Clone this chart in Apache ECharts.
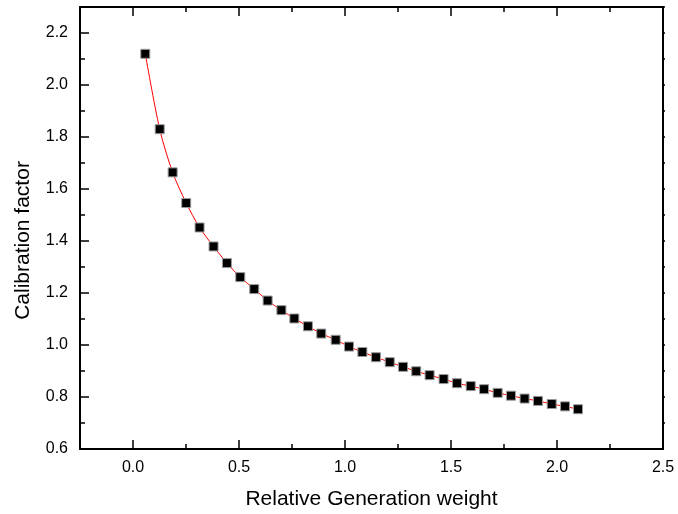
<!DOCTYPE html>
<html>
<head>
<meta charset="utf-8">
<script src="https://cdn.jsdelivr.net/npm/echarts@6/dist/echarts.min.js"></script>
<style>html,body{margin:0;padding:0;background:#fff}#c{width:678px;height:514px}</style>
</head>
<body>
<div id="c"></div>
<script>
var xValues = [0.058, 0.126, 0.187, 0.251, 0.314, 0.380, 0.443, 0.506, 0.572, 0.635, 0.700,
  0.761, 0.825, 0.888, 0.956, 1.019, 1.082, 1.146, 1.211, 1.274, 1.336, 1.399, 1.465,
  1.528, 1.593, 1.656, 1.720, 1.783, 1.847, 1.910, 1.975, 2.038, 2.099];
var yValues = [2.120, 1.830, 1.664, 1.546, 1.452, 1.379, 1.315, 1.261, 1.215, 1.171, 1.134,
  1.102, 1.072, 1.044, 1.020, 0.994, 0.973, 0.953, 0.934, 0.916, 0.899, 0.884, 0.869,
  0.853, 0.842, 0.830, 0.816, 0.805, 0.794, 0.785, 0.773, 0.764, 0.753];
var xMajorTicks = [0, 0.5, 1.0, 1.5, 2.0, 2.5];
var xMinorTicks = [0.25, 0.75, 1.25, 1.75, 2.25];
var yMajorTicks = [0.6, 0.8, 1.0, 1.2, 1.4, 1.6, 1.8, 2.0, 2.2];
var yMinorTicks = [0.7, 0.9, 1.1, 1.3, 1.5, 1.7, 1.9, 2.1, 2.3];
var yRightTicks = [0.7, 0.8, 0.9, 1.0, 1.1, 1.2, 1.3, 1.4, 1.5, 1.6, 1.7, 1.8, 1.9, 2.0, 2.1, 2.2, 2.3];
var xTitle = 'Relative Generation weight';
var yTitle = 'Calibration factor';

var points = xValues.map(function (x, i) { return [x, yValues[i]]; });
var FONT = "'Liberation Sans', Arial, sans-serif";
var XMIN = -0.25, XMAX = 2.5, YMIN = 0.6, YMAX = 2.3;
var lineStyle = { color: '#000', width: 2 };

function xAx(pos, ticks, len, showLine, labels) {
  var a = {
    type: 'value', position: pos, min: XMIN, max: XMAX, offset: 0,
    splitLine: { show: false },
    axisLine: { show: showLine, onZero: false, lineStyle: lineStyle },
    axisTick: { show: true, inside: true, length: len, customValues: ticks, lineStyle: { color: '#000', width: 1.5 } },
    axisLabel: { show: false }
  };
  if (labels) {
    a.axisLabel = { show: true, customValues: ticks, margin: 11, color: '#000', fontFamily: FONT, fontSize: 16,
      formatter: function (v) { return v.toFixed(1); } };
    a.name = xTitle; a.nameLocation = 'middle'; a.nameGap = 40;
    a.nameTextStyle = { color: '#000', fontFamily: FONT, fontSize: 21 };
  }
  return a;
}
function yAx(pos, ticks, len, inside, showLine, labels) {
  var a = {
    type: 'value', position: pos, min: YMIN, max: YMAX, offset: 0,
    splitLine: { show: false },
    axisLine: { show: showLine, onZero: false, lineStyle: lineStyle },
    axisTick: { show: true, inside: inside, length: len, customValues: ticks, lineStyle: { color: '#000', width: 1.5 } },
    axisLabel: { show: false }
  };
  if (labels) {
    a.axisLabel = { show: true, customValues: ticks, margin: 12, color: '#000', fontFamily: FONT, fontSize: 16,
      formatter: function (v) { return v.toFixed(1); } };
    a.name = yTitle; a.nameLocation = 'middle'; a.nameGap = 46;
    a.nameTextStyle = { color: '#000', fontFamily: FONT, fontSize: 21, padding: [0, 25, 0, 0] };
  }
  return a;
}

var chart = echarts.init(document.getElementById('c'));
chart.setOption({
  animation: false,
  backgroundColor: '#fff',
  grid: { left: 80, right: 15, top: 7, bottom: 65, containLabel: false, outerBoundsMode: 'none' },
  xAxis: [
    xAx('bottom', xMajorTicks, 9, true, true),
    xAx('bottom', xMinorTicks, 5, false, false),
    xAx('top', xMajorTicks, 9, true, false),
    xAx('top', xMinorTicks, 5, false, false)
  ],
  yAxis: [
    yAx('left', yMajorTicks, 9, true, true, true),
    yAx('left', yMinorTicks, 5, true, false, false),
    yAx('right', yRightTicks, 2, false, true, false)
  ],
  series: [
    {
      type: 'line', xAxisIndex: 0, yAxisIndex: 0, data: points,
      smooth: 0.3, showSymbol: false, symbol: 'none',
      lineStyle: { color: '#ff0000', width: 1 }, z: 2
    },
    {
      type: 'scatter', xAxisIndex: 0, yAxisIndex: 0, data: points,
      symbol: 'rect', symbolSize: 9,
      itemStyle: { color: '#000', borderColor: '#9a9a9a', borderWidth: 1, opacity: 1 }, z: 3
    }
  ]
});
</script>
</body>
</html>
